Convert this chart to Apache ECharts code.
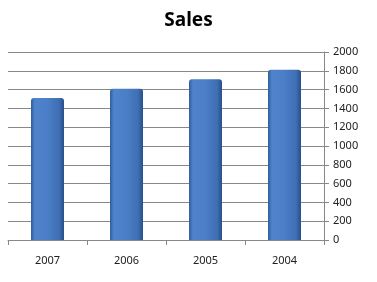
<!DOCTYPE html>
<html><head><meta charset="utf-8">
<script src="https://cdn.jsdelivr.net/npm/echarts@6/dist/echarts.min.js"></script>
<style>html,body{margin:0;padding:0;background:#fff}#c{width:377px;height:282px}</style>
</head><body><div id="c"></div>
<script>
const categories = ["2007", "2006", "2005", "2004"];
const sales = [1510, 1610, 1710, 1810];
const yTicks = [0, 200, 400, 600, 800, 1000, 1200, 1400, 1600, 1800, 2000];

const chart = echarts.init(document.getElementById('c'), null, {renderer: 'canvas'});
chart.setOption({
  animation: false,
  backgroundColor: '#fff',
  title: {
    text: 'Sales', left: 'center', top: 6,
    textStyle: {fontFamily: 'Noto Sans', fontWeight: 'bold', fontSize: 19, color: '#000'}
  },
  grid: {left: 8, right: 53, top: 52, bottom: 42},
  xAxis: {
    type: 'category', data: categories,
    axisLine: {show: true, lineStyle: {color: '#888', width: 1}},
    axisTick: {show: true, length: 5, alignWithLabel: false, lineStyle: {color: '#888'}},
    axisLabel: {color: '#222', fontSize: 11, fontFamily: 'Noto Sans', margin: 15},
    splitLine: {show: false}
  },
  yAxis: {
    type: 'value', position: 'right', min: yTicks[0], max: yTicks[yTicks.length - 1], interval: 200,
    axisLine: {show: true, lineStyle: {color: '#888', width: 1}},
    axisTick: {show: true, length: 5, lineStyle: {color: '#888'}},
    axisLabel: {color: '#222', fontSize: 11, fontFamily: 'Noto Sans', margin: 9, formatter: v => String(v)},
    splitLine: {show: true, lineStyle: {color: '#888', width: 1}}
  },
  series: [{
    type: 'bar', data: sales, barWidth: 33,
    itemStyle: {
      borderRadius: [3, 3, 0, 0],
      color: new echarts.graphic.LinearGradient(0, 0, 1, 0, [
        {offset: 0, color: '#2f5d9e'},
        {offset: 0.12, color: '#4f84cc'},
        {offset: 0.5, color: '#4a7ec6'},
        {offset: 0.85, color: '#3f6fb4'},
        {offset: 1, color: '#274f8a'}
      ])
    }
  }]
});
</script></body></html>
